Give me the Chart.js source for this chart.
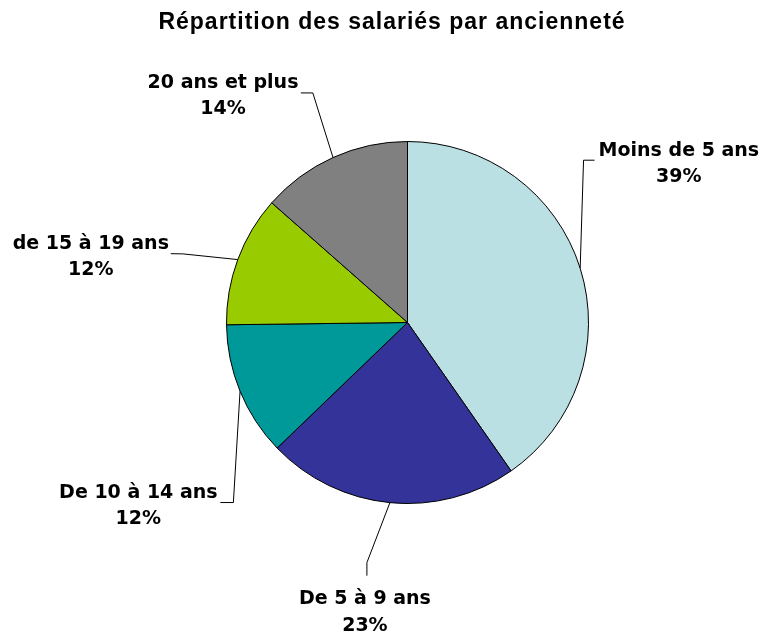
<!DOCTYPE html>
<html>
<head>
<meta charset="utf-8">
<script src="https://cdn.jsdelivr.net/npm/chart.js@4.4.1/dist/chart.umd.min.js"></script>
<style>
  html, body { margin: 0; padding: 0; background: #ffffff; }
  #wrap { width: 761px; height: 632px; position: relative; }
</style>
</head>
<body>
<div id="wrap"><canvas id="c" width="761" height="632"></canvas></div>
<script>
// ---- data ----
const chartTitle = "Répartition des salariés par ancienneté";
const categories = ["Moins de 5 ans", "De 5 à 9 ans", "De 10 à 14 ans", "de 15 à 19 ans", "20 ans et plus"];
const shares = [40.3, 22.5, 12.0, 11.7, 13.5];          // slice sizes as drawn
const shareLabels = ["39%", "23%", "12%", "12%", "14%"]; // percentages printed on the chart
const sliceColors = ["#BBE0E3", "#333399", "#009999", "#99CC00", "#808080"];

// ---- label / leader layout (offsets from each slice's outer mid point) ----
const leaderLayout = [
  { elbow: [3.4, -108], end: [14.4, -108], text: [98.7, -112.4] },
  { elbow: [-23, 60], end: [-23, 73], text: [-25, 101.5] },
  { elbow: [-6.7, 111.3], end: [-19.7, 111.3], text: [-101.7, 106.6] },
  { elbow: [-55, -5.7], end: [-67, -5.9], text: [-147, -10.9] },
  { elbow: [-20.2, -64.6], end: [-32.2, -64.6], text: [-110, -69.6] }
];
const lineGap = 26.5;

const labelPlugin = {
  id: 'pieLabels',
  afterDraw(chart) {
    const ctx = chart.ctx;
    const meta = chart.getDatasetMeta(0);
    ctx.save();
    // title
    ctx.fillStyle = '#000';
    ctx.font = 'bold 23px "Liberation Sans", Arial, sans-serif';
    ctx.textAlign = 'center';
    ctx.textBaseline = 'alphabetic';
    if ('letterSpacing' in ctx) ctx.letterSpacing = '1px';
    ctx.fillText(chartTitle, 392, 29);
    if ('letterSpacing' in ctx) ctx.letterSpacing = '0px';

    meta.data.forEach((arc, i) => {
      const p = arc.getProps(['x', 'y', 'startAngle', 'endAngle', 'outerRadius'], true);
      const mid = (p.startAngle + p.endAngle) / 2;
      const ex = p.x + Math.cos(mid) * p.outerRadius;
      const ey = p.y + Math.sin(mid) * p.outerRadius;
      const L = leaderLayout[i];
      ctx.strokeStyle = '#000';
      ctx.lineWidth = 1;
      ctx.beginPath();
      ctx.moveTo(ex, ey);
      ctx.lineTo(ex + L.elbow[0], ey + L.elbow[1]);
      ctx.lineTo(ex + L.end[0], ey + L.end[1]);
      ctx.stroke();

      ctx.fillStyle = '#000';
      ctx.font = 'bold 19px "DejaVu Sans", Verdana, sans-serif';
      ctx.textAlign = 'center';
      ctx.textBaseline = 'alphabetic';
      const tx = ex + L.text[0], ty = ey + L.text[1];
      ctx.fillText(categories[i], tx, ty);
      ctx.fillText(shareLabels[i], tx, ty + lineGap);
    });
    ctx.restore();
  }
};

new Chart(document.getElementById('c'), {
  type: 'pie',
  data: {
    labels: categories,
    datasets: [{
      data: shares,
      backgroundColor: sliceColors,
      borderColor: '#000000',
      borderWidth: 1
    }]
  },
  options: {
    responsive: false,
    animation: false,
    layout: { padding: { left: 226, right: 172, top: 141, bottom: 128 } },
    plugins: {
      legend: { display: false },
      tooltip: { enabled: false },
      title: { display: false }
    }
  },
  plugins: [labelPlugin]
});
</script>
</body>
</html>
